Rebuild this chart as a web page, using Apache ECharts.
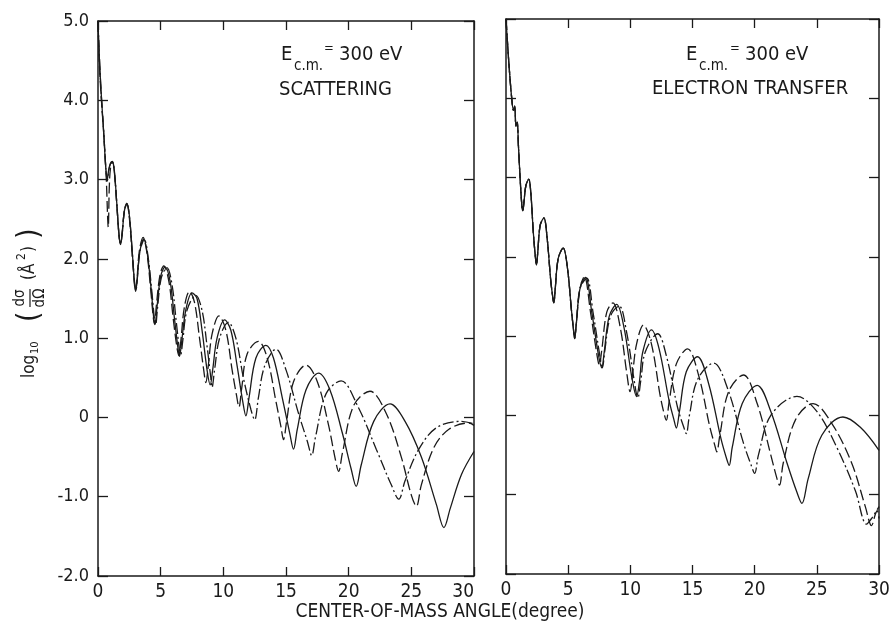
<!DOCTYPE html>
<html>
<head>
<meta charset="utf-8">
<script src="https://cdn.jsdelivr.net/npm/echarts@6/dist/echarts.min.js"></script>
<style>
html,body{margin:0;padding:0;background:#fff;}
#chart{width:893px;height:628px;}
</style>
</head>
<body>
<div id="chart"></div>
<script>
// ---------- DATA ----------
var xTicks = [0, 5, 10, 15, 20, 25, 30];
var yTicks = [-2, -1, 0, 1, 2, 3, 4, 5];
var panelTitles = ['SCATTERING', 'ELECTRON TRANSFER'];
var energyLabel = '300 eV';

// Left panel: scattering
var scatSolid = [[0,5.0],[0.1,4.55],[0.25,4.1],[0.45,3.6],[0.62,3.15],[0.74,3.0],[0.85,3.12],[1.0,3.21],[1.15,3.23],[1.3,3.12],[1.5,2.7],[1.68,2.3],[1.8,2.18],[1.92,2.3],[2.1,2.6],[2.3,2.7],[2.5,2.55],[2.75,2.05],[2.92,1.68],[3.0,1.59],[3.1,1.7],[3.35,2.1],[3.65,2.25],[3.95,2.05],[4.25,1.6],[4.45,1.25],[4.55,1.17],[4.7,1.38],[5.0,1.78],[5.35,1.9],[5.75,1.72],[6.1,1.25],[6.4,0.85],[6.5,0.77],[6.65,0.92],[7.0,1.35],[7.5,1.57],[7.9,1.5],[8.3,1.1],[8.7,0.6],[8.95,0.41],[9.15,0.6],[9.5,1.0],[10.1,1.23],[10.6,1.1],[11.1,0.65],[11.55,0.2],[11.8,0.02],[12.05,0.25],[12.6,0.75],[13.4,0.91],[14.0,0.75],[14.7,0.25],[15.3,-0.2],[15.6,-0.40],[15.9,-0.15],[16.6,0.35],[17.6,0.56],[18.5,0.35],[19.5,-0.2],[20.2,-0.65],[20.6,-0.87],[21.0,-0.6],[22.0,-0.05],[23.3,0.17],[24.5,-0.05],[25.8,-0.5],[27.0,-1.1],[27.6,-1.39],[28.1,-1.15],[29.0,-0.72],[30,-0.43]];
var scatDashed = [[0,5.0],[0.1,4.5],[0.25,4.05],[0.45,3.6],[0.65,3.05],[0.82,2.40],[0.9,2.9],[1.0,3.15],[1.15,3.22],[1.3,3.1],[1.5,2.68],[1.68,2.28],[1.8,2.2],[1.92,2.32],[2.1,2.6],[2.3,2.69],[2.5,2.52],[2.75,2.0],[2.92,1.66],[3.0,1.6],[3.1,1.72],[3.3,2.1],[3.6,2.27],[3.9,2.08],[4.2,1.62],[4.42,1.25],[4.52,1.18],[4.65,1.4],[4.95,1.8],[5.25,1.91],[5.65,1.72],[6.0,1.25],[6.3,0.88],[6.45,0.78],[6.6,0.95],[6.9,1.4],[7.3,1.59],[7.7,1.45],[8.1,1.0],[8.45,0.58],[8.6,0.44],[8.8,0.65],[9.1,1.05],[9.65,1.28],[10.2,1.1],[10.7,0.6],[11.05,0.28],[11.25,0.13],[11.45,0.35],[11.9,0.8],[12.8,0.96],[13.5,0.75],[14.2,0.2],[14.6,-0.12],[14.8,-0.28],[15.05,-0.05],[15.6,0.45],[16.6,0.66],[17.5,0.45],[18.4,-0.1],[18.9,-0.5],[19.2,-0.68],[19.5,-0.45],[20.4,0.15],[21.7,0.33],[23.0,0.05],[24.2,-0.5],[25.0,-0.98],[25.4,-1.12],[25.8,-0.85],[26.8,-0.38],[28.0,-0.15],[29.6,-0.07],[30,-0.1]];
var scatDashDot = [[0,5.0],[0.1,4.6],[0.25,4.1],[0.45,3.62],[0.62,3.15],[0.74,2.98],[0.86,3.12],[1.0,3.2],[1.15,3.22],[1.3,3.1],[1.5,2.7],[1.68,2.3],[1.8,2.19],[1.92,2.3],[2.1,2.6],[2.3,2.7],[2.5,2.55],[2.75,2.05],[2.92,1.7],[3.02,1.6],[3.12,1.72],[3.35,2.1],[3.7,2.24],[4.0,2.02],[4.3,1.58],[4.5,1.25],[4.6,1.17],[4.75,1.38],[5.05,1.76],[5.5,1.89],[5.9,1.68],[6.25,1.2],[6.5,0.85],[6.6,0.79],[6.75,0.95],[7.1,1.35],[7.8,1.54],[8.3,1.35],[8.7,0.9],[9.0,0.5],[9.1,0.38],[9.3,0.6],[9.7,1.0],[10.4,1.2],[11.0,1.0],[11.6,0.5],[12.2,0.1],[12.5,-0.03],[12.8,0.25],[13.3,0.65],[14.2,0.86],[15.0,0.6],[16.0,0.05],[16.7,-0.3],[17.05,-0.48],[17.35,-0.25],[18.2,0.3],[19.4,0.46],[20.7,0.15],[22.2,-0.4],[23.4,-0.85],[24.0,-1.03],[24.5,-0.8],[25.6,-0.4],[27.0,-0.13],[28.9,-0.05],[30,-0.08]];

// Right panel: electron transfer
var transSolid = [[0,5.0],[0.1,4.75],[0.25,4.4],[0.46,4.0],[0.6,3.85],[0.7,3.9],[0.8,3.65],[0.9,3.7],[1.0,3.4],[1.15,2.95],[1.28,2.64],[1.35,2.58],[1.45,2.7],[1.6,2.9],[1.83,2.98],[2.0,2.8],[2.2,2.3],[2.38,1.97],[2.45,1.9],[2.55,2.05],[2.75,2.4],[3.05,2.49],[3.3,2.25],[3.6,1.7],[3.78,1.47],[3.85,1.42],[3.95,1.58],[4.2,1.98],[4.6,2.11],[4.95,1.85],[5.25,1.35],[5.45,1.05],[5.52,0.97],[5.65,1.15],[5.95,1.6],[6.4,1.74],[6.9,1.3],[7.45,0.75],[7.7,0.6],[7.9,0.8],[8.3,1.25],[8.9,1.40],[9.5,1.1],[10.1,0.5],[10.5,0.24],[10.75,0.45],[11.0,0.8],[11.7,1.08],[12.3,0.85],[13.1,0.2],[13.5,-0.05],[13.7,-0.16],[13.95,0.05],[14.5,0.55],[15.4,0.74],[16.3,0.4],[17.3,-0.3],[17.75,-0.55],[17.95,-0.63],[18.2,-0.4],[19.0,0.15],[20.2,0.38],[21.3,0.05],[22.6,-0.6],[23.4,-0.97],[23.8,-1.11],[24.3,-0.8],[25.4,-0.25],[27.1,-0.02],[28.5,-0.15],[30,-0.44]];
var transDashed = [[0,5.0],[0.1,4.75],[0.25,4.4],[0.46,4.0],[0.6,3.85],[0.7,3.9],[0.8,3.65],[0.9,3.7],[1.0,3.4],[1.15,2.95],[1.28,2.64],[1.35,2.58],[1.45,2.7],[1.6,2.9],[1.83,2.98],[2.0,2.8],[2.2,2.3],[2.38,1.97],[2.45,1.9],[2.55,2.05],[2.75,2.4],[3.05,2.49],[3.3,2.25],[3.6,1.7],[3.78,1.47],[3.85,1.42],[3.95,1.58],[4.2,1.98],[4.6,2.11],[4.95,1.85],[5.25,1.35],[5.45,1.05],[5.52,0.97],[5.65,1.15],[5.95,1.6],[6.3,1.75],[6.8,1.3],[7.3,0.78],[7.5,0.64],[7.7,0.82],[8.1,1.3],[8.6,1.42],[9.2,1.1],[9.7,0.55],[9.98,0.30],[10.2,0.55],[10.5,0.9],[11.05,1.14],[11.7,0.9],[12.4,0.25],[12.75,0.0],[12.9,-0.06],[13.1,0.15],[13.7,0.65],[14.6,0.84],[15.5,0.5],[16.4,-0.15],[16.8,-0.38],[16.95,-0.46],[17.2,-0.25],[17.9,0.3],[19.1,0.51],[20.2,0.15],[21.3,-0.5],[21.8,-0.8],[22.0,-0.88],[22.3,-0.6],[23.3,-0.05],[24.7,0.15],[26.2,-0.1],[27.8,-0.6],[28.9,-1.15],[29.4,-1.39],[29.7,-1.25],[29.85,-1.2],[30,-1.3]];
var transDashDot = [[0,5.0],[0.1,4.75],[0.25,4.4],[0.46,4.0],[0.6,3.85],[0.7,3.9],[0.8,3.65],[0.9,3.7],[1.0,3.4],[1.15,2.95],[1.28,2.64],[1.35,2.58],[1.45,2.7],[1.6,2.9],[1.83,2.98],[2.0,2.8],[2.2,2.3],[2.38,1.97],[2.45,1.9],[2.55,2.05],[2.75,2.4],[3.05,2.49],[3.3,2.25],[3.6,1.7],[3.78,1.47],[3.85,1.42],[3.95,1.58],[4.2,1.98],[4.6,2.11],[4.95,1.85],[5.25,1.35],[5.45,1.05],[5.52,0.97],[5.65,1.15],[5.95,1.6],[6.5,1.73],[7.0,1.3],[7.55,0.75],[7.75,0.6],[7.95,0.82],[8.4,1.25],[9.1,1.38],[9.7,1.05],[10.3,0.45],[10.6,0.22],[10.85,0.45],[11.2,0.8],[12.2,1.03],[12.9,0.75],[13.8,0.1],[14.3,-0.15],[14.5,-0.23],[14.75,0.0],[15.4,0.45],[16.7,0.66],[17.8,0.35],[19.1,-0.35],[19.7,-0.62],[20.0,-0.73],[20.3,-0.5],[21.3,0.0],[23.4,0.24],[25.0,0.05],[26.6,-0.4],[28.1,-0.95],[29.0,-1.37],[29.4,-1.3],[30,-1.15]];

// ---------- CHART ----------
var FONT = "'DejaVu Sans Condensed','Liberation Sans Narrow','Roboto Condensed','Liberation Sans',sans-serif";
var INK = '#1a1a1a';
var chart = echarts.init(document.getElementById('chart'), null, {renderer: 'canvas'});

function xAx(grid, pos, labels, alignMax) {
  return {
    type: 'value', gridIndex: grid, position: pos, min: xTicks[0], max: xTicks[xTicks.length-1], interval: 5,
    axisLine: {show: true, onZero: false, lineStyle: {color: INK, width: 1.5}},
    axisTick: {show: true, inside: true, length: 9, lineStyle: {color: INK, width: 1.3}},
    axisLabel: {show: labels, margin: 7, fontSize: 19, color: INK, fontFamily: FONT, alignMaxLabel: alignMax || null},
    splitLine: {show: false}
  };
}
function yAx(grid, pos, labels) {
  return {
    type: 'value', gridIndex: grid, position: pos, min: yTicks[0], max: yTicks[yTicks.length-1], interval: 1,
    axisLine: {show: true, onZero: false, lineStyle: {color: INK, width: 1.5}},
    axisTick: {show: true, inside: true, length: 10, lineStyle: {color: INK, width: 1.3}},
    axisLabel: {show: labels, margin: 9, fontSize: 18, color: INK, fontFamily: FONT,
      formatter: function (v) { return v === 0 ? '0' : v.toFixed(1); }},
    splitLine: {show: false}
  };
}
function ser(data, xi, yi, type) {
  return {
    type: 'line', data: data, xAxisIndex: xi, yAxisIndex: yi, showSymbol: false, smooth: 0.35,
    silent: true, animation: false,
    lineStyle: {color: INK, width: 1.3, type: type, dashOffset: 0}
  };
}
var DASH = [11, 4];
var DASHDOT = [11, 3, 2, 3];

function txt(x, y, s, size, align) {
  return {type: 'text', x: x, y: y, silent: true,
    style: {text: s, fontSize: size, fontFamily: FONT, fill: INK, align: align || 'left', verticalAlign: 'middle'}};
}

var option = {
  backgroundColor: '#fff',
  animation: false,
  grid: [
    {left: 98, top: 21, width: 376, height: 555},
    {left: 506, top: 19, width: 373, height: 555}
  ],
  xAxis: [xAx(0, 'bottom', true, 'right'), xAx(0, 'top', false), xAx(1, 'bottom', true), xAx(1, 'top', false)],
  yAxis: [yAx(0, 'left', true), yAx(0, 'right', false), yAx(1, 'left', false), yAx(1, 'right', false)],
  series: [
    ser(scatSolid, 0, 0, 'solid'),
    ser(scatDashed, 0, 0, DASH),
    ser(scatDashDot, 0, 0, DASHDOT),
    ser(transSolid, 2, 2, 'solid'),
    ser(transDashed, 2, 2, DASH),
    ser(transDashDot, 2, 2, DASHDOT)
  ],
  graphic: [
    // left annotation
    txt(281, 55, 'E', 20), txt(294, 66, 'c.m.', 15), txt(324, 49, '=', 13), txt(339, 55, energyLabel, 20),
    txt(279, 90, panelTitles[0], 20),
    // right annotation
    txt(686, 55, 'E', 20), txt(699, 66, 'c.m.', 15), txt(730, 49, '=', 13), txt(745, 55, energyLabel, 20),
    txt(652, 89, panelTitles[1], 20),
    // x-axis title
    txt(440, 612, 'CENTER-OF-MASS ANGLE(degree)', 19, 'center'),
    // y-axis title (rotated group)
    {type: 'group', x: 30, y: 303, rotation: Math.PI / 2, silent: true, children: [
      txt(-75, 0, 'log', 17),
      txt(-51, 5, '10', 11),
      txt(-19, 0, '(', 30),
      txt(5, -10, 'dσ', 15, 'center'),
      {type: 'line', shape: {x1: -4, y1: 0, x2: 14, y2: 0}, style: {stroke: INK, lineWidth: 1.2}},
      txt(5, 10, 'dΩ', 15, 'center'),
      txt(23, 0, '(Å', 17),
      txt(43, -8, '2', 12),
      txt(51, 0, ')', 17),
      txt(64, 0, ')', 30)
    ]}
  ]
};
chart.setOption(option);
</script>
</body>
</html>
